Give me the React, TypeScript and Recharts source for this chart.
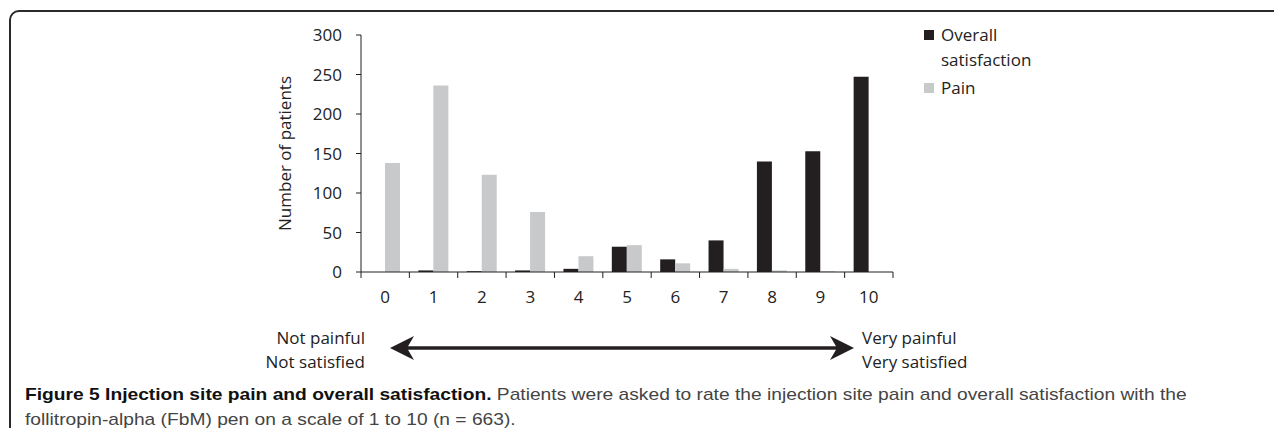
import React from 'react';
import { BarChart, Bar, XAxis, YAxis, Legend } from 'recharts';

const scores = ['0', '1', '2', '3', '4', '5', '6', '7', '8', '9', '10'];
const satisfaction = [0, 2, 1, 2, 4, 32, 16, 40, 140, 153, 247];
const pain = [138, 236, 123, 76, 20, 34, 11, 4, 2, 1, 0];
const yTicks = [0, 50, 100, 150, 200, 250, 300];

const data = scores.map((s, i) => ({ score: s, satisfaction: satisfaction[i], pain: pain[i] }));

const FONT = '"Open Sans", sans-serif';
const INK = '#231f20';
const GREY = '#c8c9cb';

// plot box in page pixels
const PLOT_LEFT = 361;
const PLOT_RIGHT = 893;
const HALF_BAND = (PLOT_RIGHT - PLOT_LEFT) / scores.length / 2;

const XTick = ({ x, y, payload, index }: any) => (
  <g>
    <line x1={x - HALF_BAND} x2={x - HALF_BAND} y1={y - 19} y2={y - 13} stroke={INK} />
    {index === scores.length - 1 && (
      <line x1={x + HALF_BAND} x2={x + HALF_BAND} y1={y - 19} y2={y - 13} stroke={INK} />
    )}
    <text x={x} y={y} dy="0.71em" textAnchor="middle" fill="#222" fontSize={17} fontFamily={FONT}>
      {payload.value}
    </text>
  </g>
);

const LegendBox = () => {
  const items = [
    { label: 'Overall satisfaction', color: INK },
    { label: 'Pain', color: GREY },
  ];
  return (
    <div style={{ fontFamily: FONT, fontSize: 17, color: '#222' }}>
      {items.map((it) => (
        <div key={it.label} style={{ display: 'flex', alignItems: 'flex-start', marginBottom: 3 }}>
          <div style={{ width: 10, height: 10, background: it.color, marginTop: 8, marginRight: 7, flexShrink: 0 }} />
          <div style={{ width: 100, lineHeight: '25px' }}>{it.label}</div>
        </div>
      ))}
    </div>
  );
};

const ArrowHead = ({ x, y, dir }: { x: number; y: number; dir: 1 | -1 }) => (
  <polygon
    points={`${x},${y} ${x - dir * 24},${y - 12} ${x - dir * 17},${y} ${x - dir * 24},${y + 12}`}
    fill={INK}
  />
);

export default function App() {
  return (
    <div style={{ position: 'relative', margin: -8, width: 1282, height: 436, overflow: 'hidden', background: '#fff' }}>
      <div
        style={{
          position: 'absolute',
          left: 9,
          top: 10,
          width: 1400,
          height: 600,
          border: '2px solid #2a2a2a',
          borderTopLeftRadius: 10,
          boxSizing: 'border-box',
        }}
      />
      <div style={{ position: 'absolute', left: 0, top: 0 }}>
        <BarChart
          width={1282}
          height={436}
          data={data}
          margin={{ top: 35, right: 1282 - PLOT_RIGHT, bottom: 134, left: PLOT_LEFT - 152 }}
          barGap={0}
          barSize={15}
        >
          <XAxis
            dataKey="score"
            height={30}
            axisLine={{ stroke: INK }}
            tickLine={false}
            tickSize={6}
            tickMargin={13}
            tick={<XTick />}
            interval={0}
          />
          <YAxis
            width={152}
            domain={[0, 300]}
            ticks={yTicks}
            axisLine={{ stroke: INK }}
            tickLine={{ stroke: INK }}
            tickSize={5}
            tickMargin={14}
            tick={{ fill: '#222', fontSize: 17, fontFamily: FONT }}
            label={{
              value: 'Number of patients',
              angle: -90,
              position: 'center',
              fill: '#222',
              fontSize: 17,
              fontFamily: FONT,
            }}
          />
          <Legend
            layout="vertical"
            align="center"
            verticalAlign="middle"
            content={<LegendBox />}
            wrapperStyle={{ left: 924, top: 22, width: 160 }}
          />
          <Bar dataKey="satisfaction" name="Overall satisfaction" fill={INK} isAnimationActive={false} />
          <Bar dataKey="pain" name="Pain" fill={GREY} isAnimationActive={false} />
        </BarChart>
      </div>

      <svg style={{ position: 'absolute', left: 0, top: 0 }} width={1282} height={436}>
        <line x1={405} x2={839} y1={348} y2={348} stroke={INK} strokeWidth={3.5} />
        <ArrowHead x={390} y={348} dir={-1} />
        <ArrowHead x={854} y={348} dir={1} />
      </svg>

      <div
        style={{
          position: 'absolute',
          left: 245,
          width: 120,
          top: 326,
          textAlign: 'right',
          fontFamily: FONT,
          fontSize: 17,
          lineHeight: '24px',
          color: '#222',
        }}
      >
        Not painful
        <br />
        Not satisfied
      </div>
      <div
        style={{
          position: 'absolute',
          left: 862,
          top: 326,
          fontFamily: FONT,
          fontSize: 17,
          lineHeight: '24px',
          color: '#222',
        }}
      >
        Very painful
        <br />
        Very satisfied
      </div>

      <div
        style={{
          position: 'absolute',
          left: 25,
          top: 382,
          fontFamily: '"Liberation Sans Narrow", sans-serif',
          fontSize: 17,
          lineHeight: '25px',
          color: '#444',
          whiteSpace: 'nowrap',
          transform: 'scaleX(1.13)',
          transformOrigin: 'left top',
        }}
      >
        <b style={{ color: '#111' }}>Figure 5 Injection site pain and overall satisfaction.</b> Patients were asked to
        rate the injection site pain and overall satisfaction with the
        <br />
        follitropin-alpha (FbM) pen on a scale of 1 to 10 (n = 663).
      </div>
    </div>
  );
}
